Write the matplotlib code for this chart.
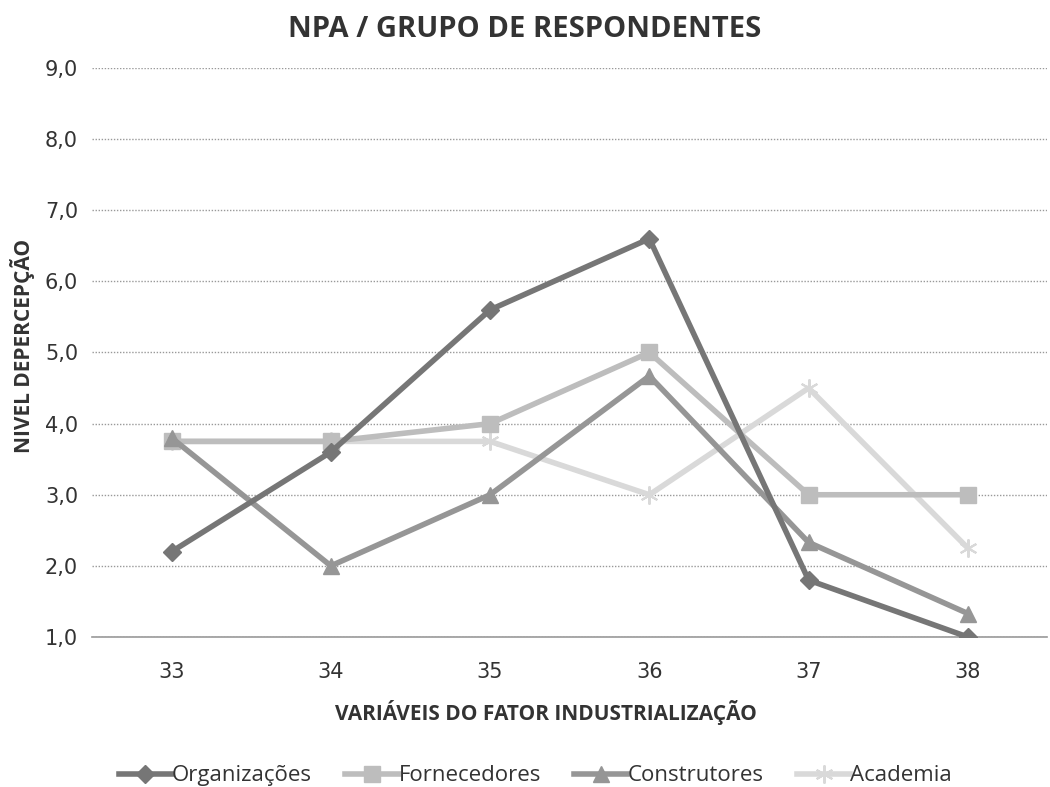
import matplotlib
matplotlib.use("Agg")
import matplotlib.pyplot as plt
from matplotlib.ticker import FuncFormatter

categories = ["33", "34", "35", "36", "37", "38"]
organizacoes = [2.2, 3.6, 5.6, 6.6, 1.8, 1.0]
fornecedores = [3.75, 3.75, 4.0, 5.0, 3.0, 3.0]
construtores = [3.8, 2.0, 3.0, 4.67, 2.33, 1.33]
academia = [3.75, 3.75, 3.75, 3.0, 4.5, 2.25]
y_ticks = [1, 2, 3, 4, 5, 6, 7, 8, 9]

plt.rcParams['font.family'] = ['Open Sans', 'DejaVu Sans']

fig = plt.figure(figsize=(10.5, 7.87), dpi=100)
ax = fig.add_axes([0.0876, 0.1906, 0.910, 0.723])
x = list(range(len(categories)))

ax.plot(x, organizacoes, color='#767676', lw=4, marker='D', ms=9, label='Organizações', zorder=5)
ax.plot(x, fornecedores, color='#BDBDBD', lw=4, marker='s', ms=11, label='Fornecedores', zorder=3)
ax.plot(x, construtores, color='#969696', lw=4, marker='^', ms=12, label='Construtores', zorder=4)
ax.plot(x, academia, color='#D9D9D9', lw=4, marker=(6, 2, 0), ms=13, mew=1.5, label='Academia', zorder=2)

ax.set_xlim(-0.5, 5.5)
ax.set_ylim(1, 9)
ax.set_yticks(y_ticks)
ax.yaxis.set_major_formatter(FuncFormatter(lambda v, p: f"{v:.1f}".replace('.', ',')))
ax.set_xticks(x)
ax.set_xticklabels(categories)
ax.tick_params(length=0, labelsize=15, labelcolor='#333333', labelfontfamily='DejaVu Sans')
ax.tick_params(axis='x', pad=18)
ax.tick_params(axis='y', pad=10)
ax.grid(axis='y', linestyle=(0, (1, 1.2)), color='#999999', lw=1)
ax.set_axisbelow(True)
for s in ['top', 'right', 'left']:
    ax.spines[s].set_visible(False)
ax.spines['bottom'].set_color('#999999')
ax.spines['bottom'].set_linewidth(1.2)

fig.text(0.5, 0.962, 'NPA / GRUPO DE RESPONDENTES', ha='center', va='center',
         fontsize=21, fontweight='bold', color='#333333')
fig.text(0.52, 0.095, 'VARIÁVEIS DO FATOR INDUSTRIALIZAÇÃO', ha='center', va='center',
         fontsize=15, fontweight='bold', color='#333333')
fig.text(0.021, 0.56, 'NIVEL DEPERCEPÇÃO', ha='center', va='center', rotation=90,
         fontsize=15, fontweight='bold', color='#333333')

fig.legend(loc='center', bbox_to_anchor=(0.51, 0.014), ncol=4, frameon=False,
           fontsize=16, handlelength=2.4, handletextpad=0.0, columnspacing=1.5,
           labelcolor='#333333')

fig.savefig('out.png', dpi=100)
